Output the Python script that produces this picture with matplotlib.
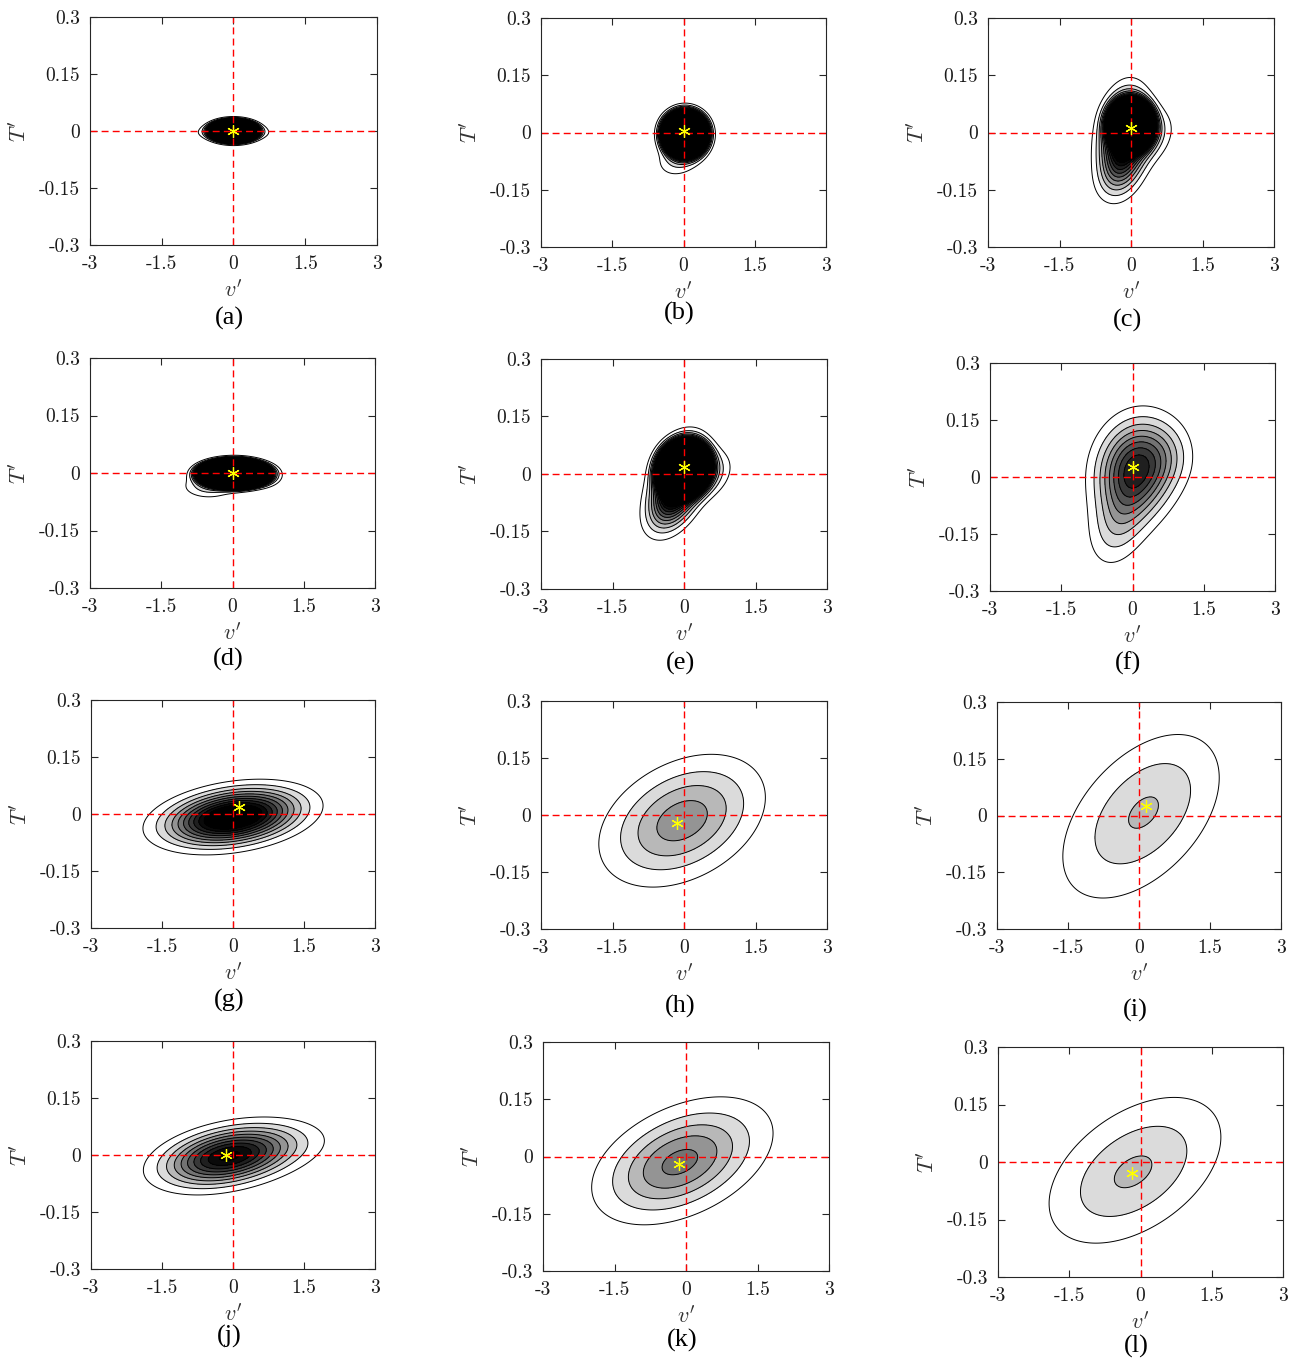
import numpy as np
import matplotlib
matplotlib.use("Agg")
import matplotlib.pyplot as plt

plt.rcParams["mathtext.fontset"] = "cm"
plt.rcParams["axes.unicode_minus"] = False

W, H = 1290, 1362

V_TICKS = [-3, -1.5, 0, 1.5, 3]
V_TICK_LABELS = ["-3", "-1.5", "0", "1.5", "3"]
T_TICKS = [-0.3, -0.15, 0, 0.15, 0.3]
T_TICK_LABELS = ["-0.3", "-0.15", "0", "0.15", "0.3"]
PANEL_LABELS = ["(a)", "(b)", "(c)", "(d)", "(e)", "(f)",
                "(g)", "(h)", "(i)", "(j)", "(k)", "(l)"]

# joint pdf of (v', T') per panel, read off as gaussian lobes:
# (peak height in contour steps, v centre, T centre, sigma v, sigma T, rho)
PDF_A = [(400, 0.0, 0.0, 0.19, 0.011, 0.0), (3.0, 0.0, -0.004, 0.45, 0.013, 0.0)]
PDF_B = [(300, 0.03, -0.004, 0.19, 0.024, 0.0), (2.2, -0.1, -0.07, 0.3, 0.03, 0.2)]
PDF_C = [(200, 0.0, 0.02, 0.2, 0.028, 0.0), (12, -0.15, -0.01, 0.3, 0.069, 0.2),
         (2.5, -0.25, -0.1, 0.3, 0.05, 0.3), (2.2, 0.45, -0.01, 0.3, 0.045, 0.3)]
PDF_D = [(1000, 0.03, -0.002, 0.26, 0.013, 0.0), (2.5, -0.5, -0.035, 0.35, 0.02, 0.0),
         (1.5, 0.7, -0.01, 0.25, 0.02, 0.0)]
PDF_E = [(300, 0.0, 0.015, 0.22, 0.029, 0.1), (12, -0.15, -0.02, 0.32, 0.06, 0.4),
         (3.0, -0.25, -0.08, 0.35, 0.05, 0.45), (2.5, 0.55, 0.0, 0.3, 0.04, 0.3)]
PDF_F = [(8.2, 0.05, 0.02, 0.5, 0.08, 0.1), (2.5, -0.3, -0.12, 0.4, 0.075, 0.3),
         (1.6, 0.7, 0.06, 0.4, 0.06, 0.0)]
PDF_G = [(13, 0.0, -0.008, 0.84, 0.044, 0.3)]
PDF_H = [(4.6, -0.04, -0.015, 1.0, 0.1, 0.35)]
PDF_I = [(2.2, 0.15, 0.02, 0.95, 0.125, 0.45), (1.0, -0.2, -0.05, 1.45, 0.18, 0.5)]
PDF_J = [(9.5, -0.15, -0.005, 0.82, 0.047, 0.35), (1.5, 0.8, 0.02, 0.85, 0.045, 0.3)]
PDF_K = [(4.3, -0.17, -0.018, 0.95, 0.085, 0.4), (1.1, 0.2, 0.01, 1.35, 0.115, 0.45)]
PDF_L = [(2.3, -0.2, -0.03, 1.05, 0.11, 0.45), (0.9, 0.1, 0.0, 1.6, 0.17, 0.45)]
PDFS = [PDF_A, PDF_B, PDF_C, PDF_D, PDF_E, PDF_F,
        PDF_G, PDF_H, PDF_I, PDF_J, PDF_K, PDF_L]

# location of the pdf maximum (yellow asterisk)
PEAK_V = [0.0, 0.0, 0.0, 0.0, 0.0, 0.0, 0.13, -0.14, 0.15, -0.14, -0.14, -0.17]
PEAK_T = [0.0, 0.005, 0.012, 0.0, 0.019, 0.026, 0.019, -0.022, 0.024, 0.0, -0.019, -0.028]

LEVELS = [1, 2, 3, 4, 5, 6, 7, 8, 9, 10]
SHADES = ["#ffffff", "#dbdbdb", "#b8b8b8", "#949494", "#737373",
          "#545454", "#383838", "#1f1f1f", "#0a0a0a", "#000000"]

# axes boxes in pixels: left, top, right, bottom
AX_BOX = [
    (90, 17, 377, 245), (541, 18, 826, 247), (988, 18, 1274, 247),
    (90, 358, 375, 588), (541, 359, 827, 589), (990, 363, 1275, 591),
    (91, 700, 375, 928), (541, 701, 827, 929), (997, 702, 1281, 929),
    (91, 1041, 375, 1269), (543, 1042, 829, 1271), (998, 1047, 1283, 1277),
]
LABEL_Y = [318, 313, 320, 659, 663, 663, 1000, 1006, 1010, 1336, 1340, 1346]


def density(comps, vv, tt):
    f = np.zeros_like(vv)
    for a, mv, mt, sv, st, rho in comps:
        dv = (vv - mv) / sv
        dt = (tt - mt) / st
        q = (dv**2 - 2 * rho * dv * dt + dt**2) / (1 - rho**2)
        f += a * np.exp(-0.5 * q)
    return f


def plot():
    fig = plt.figure(figsize=(W / 100, H / 100), dpi=100)
    v = np.linspace(-3, 3, 900)
    t = np.linspace(-0.3, 0.3, 900)
    vv, tt = np.meshgrid(v, t)
    axc = "#262626"

    for i, comps in enumerate(PDFS):
        l, top, r, b = AX_BOX[i]
        ax = fig.add_axes([l / W, 1 - b / H, (r - l) / W, (b - top) / H])
        f = density(comps, vv, tt)
        ax.contourf(vv, tt, f, levels=LEVELS + [1e7], colors=SHADES)
        ax.contour(vv, tt, f, levels=LEVELS + [11, 12], colors="k",
                   linewidths=0.7)
        ax.axhline(0, color="red", linestyle=(0, (5, 3)), linewidth=1.0)
        ax.axvline(0, color="red", linestyle=(0, (5, 3)), linewidth=1.0)
        ax.plot(PEAK_V[i], PEAK_T[i], marker=(6, 2, 0), color="#ffff00",
                markersize=9, markeredgewidth=0.9, zorder=5)

        ax.set_xlim(-3, 3)
        ax.set_ylim(-0.3, 0.3)
        ax.set_xticks(V_TICKS)
        ax.set_xticklabels(V_TICK_LABELS)
        ax.set_yticks(T_TICKS)
        ax.set_yticklabels(T_TICK_LABELS)
        ax.tick_params(direction="in", top=True, right=True, length=5,
                       width=0.8, color=axc, labelsize=14, pad=7,
                       labelfontfamily="cmr10", labelcolor="#1a1a1a")
        for s in ax.spines.values():
            s.set_color(axc)
            s.set_linewidth(0.8)

        cx = (l + r) / 2
        fig.text(cx / W, 1 - (b + 45) / H, r"$v'$", fontsize=16,
                 ha="center", va="center", color="#333333")
        fig.text((l - 71) / W, 1 - ((top + b) / 2) / H, r"$T'$", fontsize=16,
                 ha="center", va="center", rotation=90, color="#333333")
        fig.text((cx - 4) / W, 1 - LABEL_Y[i] / H, PANEL_LABELS[i],
                 fontsize=19, family="Liberation Serif",
                 ha="center", va="center")

    fig.savefig("out.png", dpi=100)


if __name__ == "__main__":
    plot()
